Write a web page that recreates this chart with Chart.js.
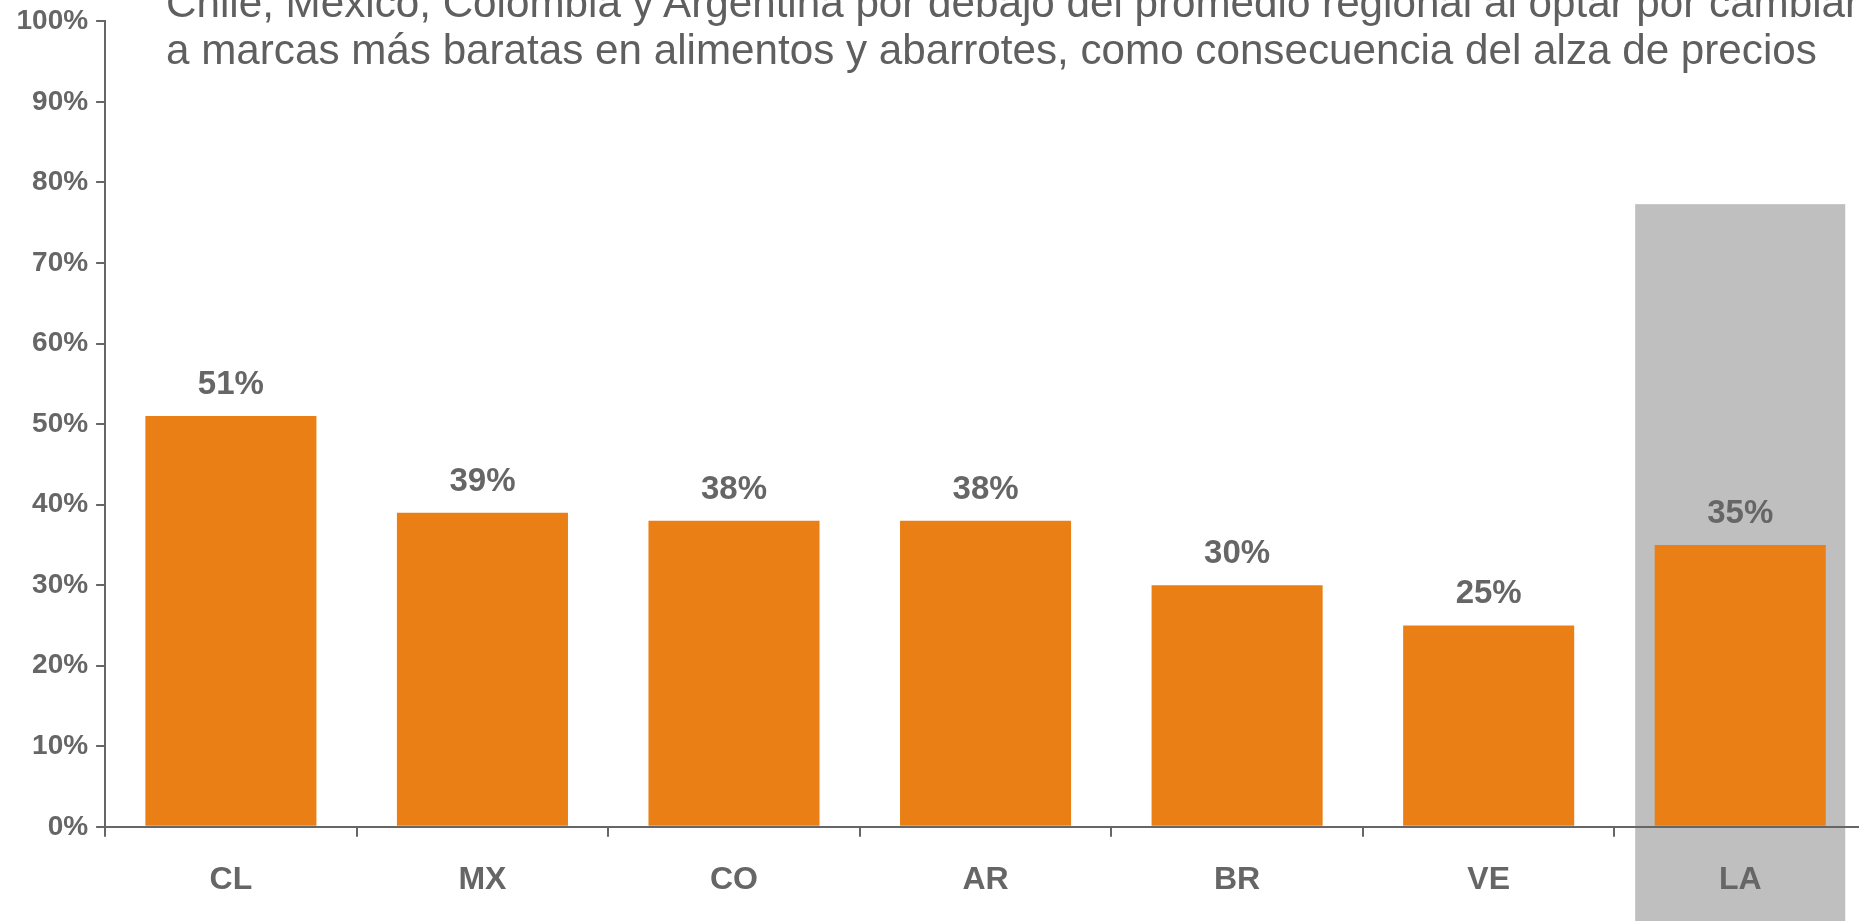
<!DOCTYPE html>
<html lang="es">
<head>
<meta charset="utf-8">
<title>Cambio a marcas más baratas</title>
<script src="https://cdn.jsdelivr.net/npm/chart.js@4/dist/chart.umd.min.js"></script>
<style>
  html, body { margin: 0; padding: 0; background: #fff; overflow: hidden; }
  #wrap { position: relative; width: 1866px; height: 921px; }
  #title {
    position: absolute; left: 166px; top: -21px;
    font-family: 'Liberation Sans', Arial, sans-serif;
    font-size: 42.2px; line-height: 47px; color: #5f5f5f;
    white-space: nowrap; pointer-events: none;
  }
</style>
</head>
<body>
<div id="wrap">
  <canvas id="brandChart"></canvas>
  <div id="title"></div>
</div>
<script>
'use strict';

// ---- Data ----
const titleLines = [
  'Chile, México, Colombia y Argentina por debajo del promedio regional al optar por cambiar',
  'a marcas más baratas en alimentos y abarrotes, como consecuencia del alza de precios'
];
const categories = ['CL', 'MX', 'CO', 'AR', 'BR', 'VE', 'LA'];
const shares = [51, 39, 38, 38, 30, 25, 35];
const yMin = 0;
const yMax = 100;
const yStep = 10;
// LA (regional average) sits on a grey panel
const highlightCategory = 'LA';
const highlightTop = 77.3;

const TEXT = '#666666';
const ORANGE = '#EA8015';
const PANEL = '#BFBFBF';
const FONT = "'Liberation Sans', Arial, sans-serif";

document.getElementById('title').innerHTML = titleLines.join('<br>');

// grey panel behind the highlighted category, runs down to the bottom edge
const highlightPanel = {
  id: 'highlightPanel',
  beforeDraw(chart) {
    const idx = categories.indexOf(highlightCategory);
    if (idx < 0) return;
    const { ctx, scales: { x, y } } = chart;
    const cx = x.getPixelForValue(idx);
    const w = (x.width / categories.length) * 0.835;
    const top = y.getPixelForValue(highlightTop);
    ctx.save();
    ctx.fillStyle = PANEL;
    ctx.fillRect(cx - w / 2, top, w, chart.height - top);
    ctx.restore();
  }
};

// value labels above each bar
const valueLabels = {
  id: 'valueLabels',
  afterDatasetsDraw(chart) {
    const { ctx } = chart;
    const meta = chart.getDatasetMeta(0);
    ctx.save();
    ctx.font = 'bold 33px ' + FONT;
    ctx.fillStyle = TEXT;
    ctx.textAlign = 'center';
    ctx.textBaseline = 'alphabetic';
    meta.data.forEach((bar, i) => {
      ctx.fillText(shares[i] + '%', bar.x, bar.y - 22);
    });
    ctx.restore();
  }
};

const ctx = document.getElementById('brandChart').getContext('2d');

new Chart(ctx, {
  type: 'bar',
  data: {
    labels: categories,
    datasets: [{
      data: shares,
      backgroundColor: ORANGE,
      borderWidth: 0,
      categoryPercentage: 1,
      barPercentage: 0.68
    }]
  },
  options: {
    responsive: true,
    maintainAspectRatio: false,
    animation: false,
    layout: { padding: { left: 8.5, top: 0, right: 0, bottom: -3 } },
    plugins: {
      legend: { display: false },
      tooltip: { enabled: false }
    },
    scales: {
      x: {
        grid: {
          offset: true,
          drawOnChartArea: false,
          tickLength: 10,
          color: TEXT,
          lineWidth: 2
        },
        border: { color: TEXT, width: 2 },
        ticks: {
          color: TEXT,
          padding: 26,
          font: { family: FONT, size: 32, weight: 'bold', lineHeight: 1.1 }
        }
      },
      y: {
        min: yMin,
        max: yMax,
        grid: {
          drawOnChartArea: false,
          tickLength: 9,
          color: TEXT,
          lineWidth: 2
        },
        border: { color: TEXT, width: 2 },
        ticks: {
          stepSize: yStep,
          color: TEXT,
          padding: 8,
          font: { family: FONT, size: 28, weight: 'bold', lineHeight: 0.95 },
          callback: v => v + '%'
        }
      }
    }
  },
  plugins: [highlightPanel, valueLabels]
});
</script>
</body>
</html>
